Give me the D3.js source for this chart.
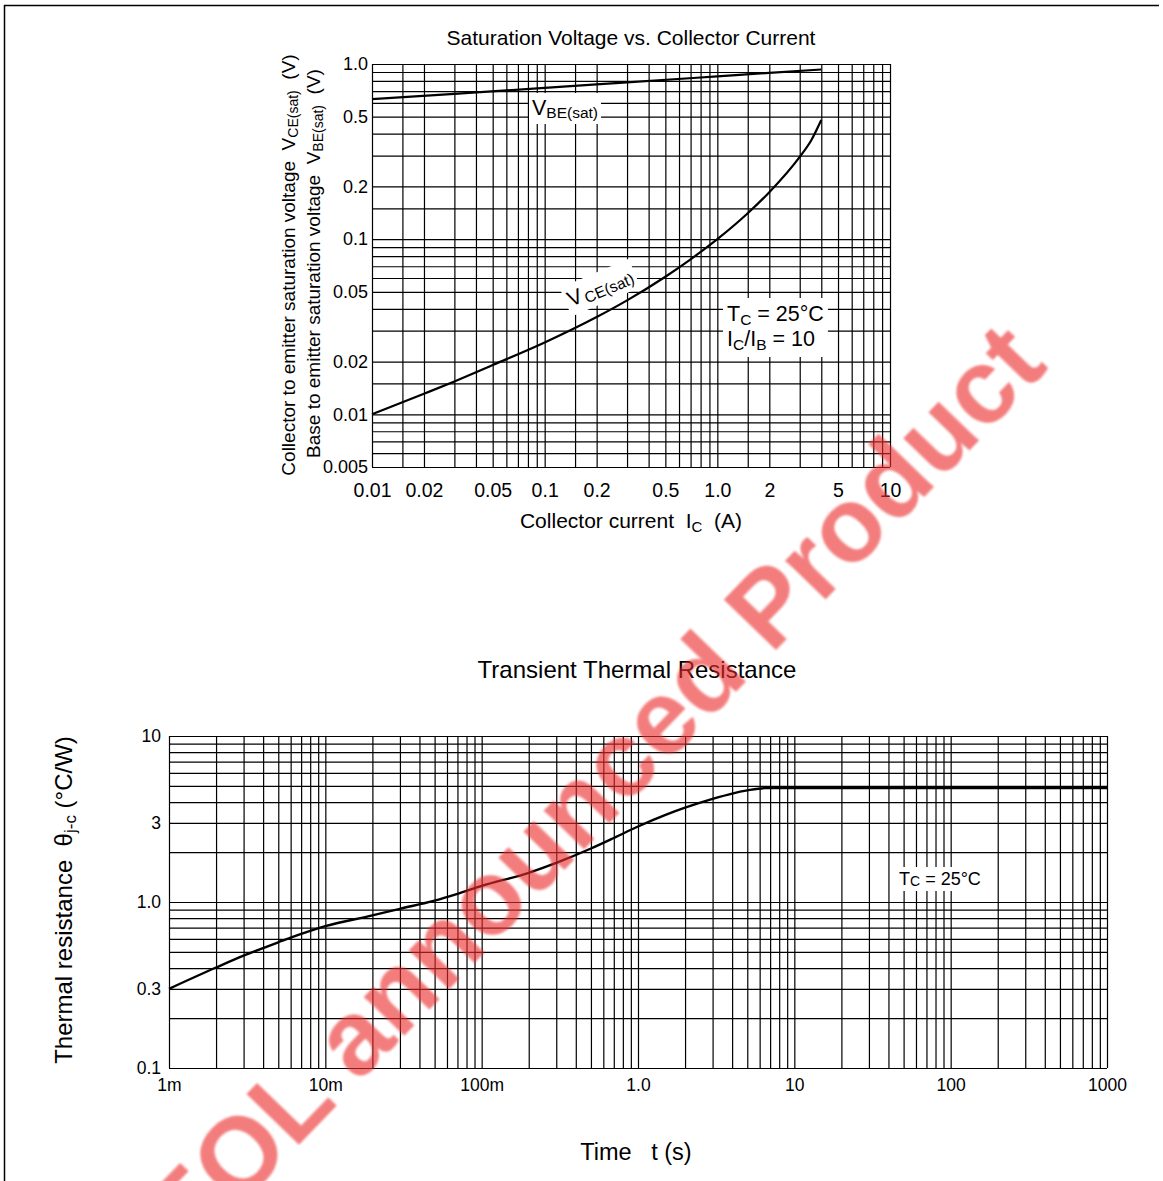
<!DOCTYPE html>
<html><head><meta charset="utf-8">
<script src="https://cdn.jsdelivr.net/npm/d3@7"></script>
<style>
body{margin:0;background:#fff}
svg{display:block}
text{font-family:"Liberation Sans",Arial,Helvetica,sans-serif}
</style>
</head><body>
<svg id="c" width="1163" height="1181"></svg>
<script>
// ---------- DATA ----------
// Saturation voltage chart
const vceCurrent = [0.01, 0.02, 0.03, 0.05, 0.1, 0.2, 0.3, 0.5, 0.7, 1.0, 1.5, 2.0, 3.0, 3.5, 4.0];
const vceSat     = [0.01, 0.0131, 0.0154, 0.0191, 0.0257, 0.0359, 0.0447, 0.061, 0.0767, 0.1, 0.1406, 0.1854, 0.295, 0.367, 0.479];
const vbeCurrent = [0.01, 0.03, 0.1, 0.3, 1.0, 2.0, 4.0];
const vbeSat     = [0.63, 0.675, 0.73, 0.785, 0.85, 0.89, 0.93];
const satXTicks = [0.01, 0.02, 0.05, 0.1, 0.2, 0.5, 1, 2, 5, 10];
const satXTickLabels = ["0.01", "0.02", "0.05", "0.1", "0.2", "0.5", "1.0", "2", "5", "10"];
const satYTicks = [1, 0.5, 0.2, 0.1, 0.05, 0.02, 0.01, 0.005];
const satYTickLabels = ["1.0", "0.5", "0.2", "0.1", "0.05", "0.02", "0.01", "0.005"];
const satGridMults = [1, 1.5, 2, 3, 4, 5, 6, 7, 8, 9];

// Transient thermal resistance chart
const thermTime = [0.001, 0.002, 0.003, 0.004, 0.005, 0.006, 0.008, 0.01, 0.02, 0.03, 0.05, 0.07, 0.1, 0.2, 0.3, 0.5, 0.7, 1.0, 1.5, 2.0, 3.0, 4.0, 5.0, 6.5, 1000];
const thermRes  = [0.3, 0.403, 0.475, 0.528, 0.572, 0.61, 0.67, 0.715, 0.83, 0.91, 1.02, 1.12, 1.25, 1.5, 1.72, 2.1, 2.43, 2.85, 3.35, 3.7, 4.18, 4.5, 4.7, 4.85, 4.85];
const thermXTicks = [0.001, 0.01, 0.1, 1, 10, 100, 1000];
const thermXTickLabels = ["1m", "10m", "100m", "1.0", "10", "100", "1000"];
const thermYTicks = [10, 3, 1, 0.3, 0.1];
const thermYTickLabels = ["10", "3", "1.0", "0.3", "0.1"];
const thermGridMults = [1, 2, 3, 4, 5, 6, 7, 8, 9];

// ---------- HELPERS ----------
const svg = d3.select("#c");
const FONT = '"Liberation Sans",Arial,Helvetica,sans-serif';

function logGrid(lo, hi, mults) {
  const out = [];
  for (let e = Math.floor(Math.log10(lo)); e <= Math.ceil(Math.log10(hi)); e++) {
    mults.forEach(m => {
      const v = +(m * Math.pow(10, e)).toPrecision(6);
      if (v >= lo * 0.9999 && v <= hi * 1.0001) out.push(v);
    });
  }
  return out;
}

function drawGrid(g, x, y, mults) {
  const [x0, x1] = x.range();
  const [y0, y1] = y.range();
  const xd = x.domain(), yd = y.domain();
  g.append("g").attr("transform", `translate(0,${y0})`)
    .call(d3.axisBottom(x).tickValues(logGrid(xd[0], xd[1], mults)).tickSize(-(y0 - y1)).tickFormat(""))
    .call(a => a.select(".domain").remove())
    .selectAll("line").attr("stroke", "#000").attr("stroke-width", 1.2);
  g.append("g").attr("transform", `translate(${x0},0)`)
    .call(d3.axisLeft(y).tickValues(logGrid(yd[0], yd[1], mults)).tickSize(-(x1 - x0)).tickFormat(""))
    .call(a => a.select(".domain").remove())
    .selectAll("line").attr("stroke", "#000").attr("stroke-width", 1.2);
}

function tickLabels(g, axis, transform, size) {
  const a = g.append("g").attr("transform", transform).call(axis);
  a.select(".domain").remove();
  a.selectAll("line").remove();
  a.selectAll("text").attr("font-family", FONT).attr("font-size", size).attr("fill", "#000");
  return a;
}

function boxedLabel(parent, transform, build, pad) {
  const g = parent.append("g").attr("transform", transform);
  const t = g.append("text").attr("xml:space", "preserve").attr("fill", "#000");
  build(t);
  const bb = t.node().getBBox();
  g.insert("rect", "text")
    .attr("x", bb.x - pad[0]).attr("y", bb.y - pad[1])
    .attr("width", bb.width + 2 * pad[0]).attr("height", bb.height + 2 * pad[1])
    .attr("fill", "#fff");
  return g;
}

// ---------- FRAME ----------
svg.append("line").attr("x1", 4).attr("x2", 1159).attr("y1", 5.5).attr("y2", 5.5).attr("stroke", "#000").attr("stroke-width", 1.5);
svg.append("line").attr("x1", 4.5).attr("x2", 4.5).attr("y1", 5).attr("y2", 1181).attr("stroke", "#000").attr("stroke-width", 1.5);

// ---------- CHART 1 ----------
const x1 = d3.scaleLog().domain([0.01, 10]).range([372, 890]);
const y1 = d3.scaleLog().domain([0.005, 1]).range([467, 64]);
const g1 = svg.append("g");
drawGrid(g1, x1, y1, satGridMults);

tickLabels(g1, d3.axisLeft(y1).tickValues(satYTicks).tickFormat((d, i) => satYTickLabels[i]).tickSize(0).tickPadding(4),
  `translate(372,0)`, 18);
tickLabels(g1, d3.axisBottom(x1).tickValues(satXTicks).tickFormat((d, i) => satXTickLabels[i]).tickSize(0).tickPadding(16),
  `translate(0,467)`, 19.5);

boxedLabel(g1, "translate(532,115)", t => {
  t.attr("font-size", 21.5);
  t.append("tspan").text("V");
  t.append("tspan").attr("font-size", 15.5).attr("dy", 3).text("BE(sat)");
}, [3, 3]);

boxedLabel(g1, "translate(571,307) rotate(-23)", t => {
  t.attr("font-size", 21.5);
  t.append("tspan").text("V");
  t.append("tspan").attr("font-size", 15.5).attr("dy", 3).attr("dx", 2).text("CE(sat)");
}, [3, 3]);

boxedLabel(g1, "translate(727,321)", t => {
  t.attr("font-size", 21.5);
  t.append("tspan").text("T");
  t.append("tspan").attr("font-size", 15.5).attr("dy", 4).text("C");
  t.append("tspan").attr("dy", -4).text(" = 25°C");
  t.append("tspan").attr("x", 0).attr("dy", 25).text("I");
  t.append("tspan").attr("font-size", 15.5).attr("dy", 4).text("C");
  t.append("tspan").attr("dy", -4).text("/I");
  t.append("tspan").attr("font-size", 15.5).attr("dy", 4).text("B");
  t.append("tspan").attr("dy", -4).text(" = 10");
}, [4, 4]);

const line1 = d3.line().x(d => x1(d[0])).y(d => y1(d[1])).curve(d3.curveMonotoneX);
g1.append("path").datum(d3.zip(vbeCurrent, vbeSat)).attr("d", line1).attr("fill", "none").attr("stroke", "#000").attr("stroke-width", 2.2);
g1.append("path").datum(d3.zip(vceCurrent, vceSat)).attr("d", line1).attr("fill", "none").attr("stroke", "#000").attr("stroke-width", 2.2);

g1.append("text").attr("x", 631).attr("y", 45).attr("text-anchor", "middle").attr("font-size", 21).attr("fill", "#000")
  .text("Saturation Voltage vs. Collector Current");
{
  const t = g1.append("text").attr("x", 631).attr("y", 528).attr("text-anchor", "middle").attr("font-size", 21).attr("fill", "#000").attr("xml:space", "preserve");
  t.append("tspan").text("Collector current  I");
  t.append("tspan").attr("font-size", 15).attr("dy", 4).text("C");
  t.append("tspan").attr("dy", -4).text("  (A)");
}
{
  const t = g1.append("text").attr("transform", "translate(295,265) rotate(-90)").attr("text-anchor", "middle").attr("font-size", 19).attr("fill", "#000").attr("xml:space", "preserve");
  t.append("tspan").text("Collector to emitter saturation voltage  V");
  t.append("tspan").attr("font-size", 14).attr("dy", 3).text("CE(sat)");
  t.append("tspan").attr("dy", -3).text("  (V)");
  const t2 = g1.append("text").attr("transform", "translate(320,263.5) rotate(-90)").attr("text-anchor", "middle").attr("font-size", 19).attr("fill", "#000").attr("xml:space", "preserve");
  t2.append("tspan").text("Base to emitter saturation voltage  V");
  t2.append("tspan").attr("font-size", 14).attr("dy", 3).text("BE(sat)");
  t2.append("tspan").attr("dy", -3).text("  (V)");
}

// ---------- CHART 2 ----------
const x2 = d3.scaleLog().domain([0.001, 1000]).range([169, 1107]);
const y2 = d3.scaleLog().domain([0.1, 10]).range([1068, 736]);
const g2 = svg.append("g");
drawGrid(g2, x2, y2, thermGridMults);

tickLabels(g2, d3.axisLeft(y2).tickValues(thermYTicks).tickFormat((d, i) => thermYTickLabels[i]).tickSize(0).tickPadding(8),
  `translate(169,0)`, 17.5);
tickLabels(g2, d3.axisBottom(x2).tickValues(thermXTicks).tickFormat((d, i) => thermXTickLabels[i]).tickSize(0).tickPadding(11),
  `translate(0,1068)`, 17.5);

boxedLabel(g2, "translate(899,885)", t => {
  t.attr("font-size", 18);
  t.append("tspan").text("T");
  t.append("tspan").attr("font-size", 14).attr("dy", 1).text("C");
  t.append("tspan").attr("dy", -1).text(" = 25°C");
}, [2, 2]);

const line2 = d3.line().x(d => x2(d[0])).y(d => y2(d[1])).curve(d3.curveMonotoneX);
g2.append("path").datum(d3.zip(thermTime, thermRes)).attr("d", line2).attr("fill", "none").attr("stroke", "#000").attr("stroke-width", 2.4);

g2.append("text").attr("x", 637).attr("y", 678).attr("text-anchor", "middle").attr("font-size", 24).attr("fill", "#000")
  .text("Transient Thermal Resistance");
g2.append("text").attr("x", 636).attr("y", 1160).attr("text-anchor", "middle").attr("font-size", 23.5).attr("fill", "#000").attr("xml:space", "preserve")
  .text("Time   t (s)");
{
  const t = g2.append("text").attr("transform", "translate(72,900) rotate(-90)").attr("text-anchor", "middle").attr("font-size", 24).attr("fill", "#000").attr("xml:space", "preserve");
  t.append("tspan").text("Thermal resistance  θ");
  t.append("tspan").attr("font-size", 17).attr("dy", 4).text("j-c");
  t.append("tspan").attr("dy", -4).text(" (°C/W)");
}

// ---------- WATERMARK ----------
const defs = svg.append("defs");
defs.append("filter").attr("id", "blur").append("feGaussianBlur").attr("stdDeviation", 1.2);
svg.append("text")
  .attr("transform", "translate(592,788) rotate(-46)")
  .attr("text-anchor", "middle").attr("dominant-baseline", "central")
  .attr("font-size", 106).attr("font-weight", "bold")
  .style("fill", "rgb(236,45,45)").style("opacity", 0.62).attr("filter", "url(#blur)")
  .text("EOL announced Product");
</script>
</body></html>
